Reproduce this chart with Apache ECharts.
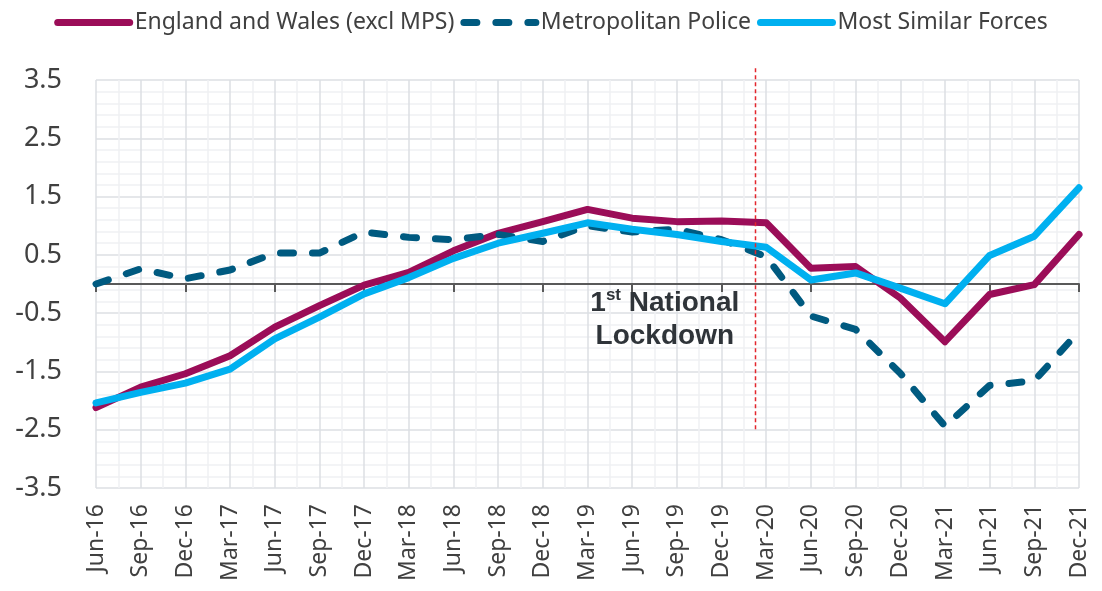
<!DOCTYPE html>
<html>
<head>
<meta charset="utf-8">
<script src="https://cdn.jsdelivr.net/npm/echarts@6/dist/echarts.min.js"></script>
<style>
  html, body { margin: 0; padding: 0; background: #ffffff; }
  #chart { width: 1102px; height: 591px; }
</style>
</head>
<body>
<div id="chart"></div>
<script>
// quarters on the x axis
const quarters = ['Jun-16', 'Sep-16', 'Dec-16', 'Mar-17', 'Jun-17', 'Sep-17', 'Dec-17', 'Mar-18',
    'Jun-18', 'Sep-18', 'Dec-18', 'Mar-19', 'Jun-19', 'Sep-19', 'Dec-19', 'Mar-20',
    'Jun-20', 'Sep-20', 'Dec-20', 'Mar-21', 'Jun-21', 'Sep-21', 'Dec-21'];

const englandWales = [-2.12, -1.77, -1.54, -1.23, -0.74, -0.37, -0.02, 0.20, 0.57, 0.87, 1.07, 1.28,
    1.13, 1.07, 1.08, 1.05, 0.27, 0.30, -0.24, -0.99, -0.18, -0.01, 0.85];
const metPolice = [0.00, 0.26, 0.09, 0.24, 0.53, 0.53, 0.89, 0.80, 0.76, 0.85, 0.73, 1.00,
    0.89, 0.94, 0.76, 0.47, -0.55, -0.78, -1.53, -2.44, -1.74, -1.66, -0.81];
const similarForces = [-2.04, -1.86, -1.70, -1.46, -0.94, -0.57, -0.17, 0.11, 0.44, 0.70, 0.87, 1.05,
    0.94, 0.85, 0.73, 0.63, 0.07, 0.19, -0.07, -0.34, 0.49, 0.82, 1.65];

// lockdown marker: position on the quarter scale and its vertical extent
const lockdownAt = 14.76;
const lockdownSpan = [3.7, -2.54];
const noteAt = [12.73, -0.62];

const chart = echarts.init(document.getElementById('chart'));
const txt = '#404040';
const major = '#dcdfe3';
const minor = '#eff1f3';

const option = {
    animation: false,
    textStyle: { fontFamily: 'Noto Sans' },
    legend: {
        top: 6,
        left: 'center',
        itemWidth: 72,
        itemHeight: 14,
        itemGap: 6,
        itemStyle: { opacity: 0 },
        lineStyle: { width: 7, cap: 'round' },
        textStyle: { color: txt, fontSize: 23 },
        data: ['England and Wales (excl MPS)', 'Metropolitan Police', 'Most Similar Forces']
    },
    grid: { left: 96, right: 23, top: 80, bottom: 103 },
    xAxis: [
        {   // labels at the bottom
            type: 'category',
            position: 'bottom',
            data: quarters,
            boundaryGap: false,
            axisLine: { show: false, onZero: false },
            axisTick: { show: false },
            axisLabel: { rotate: 90, color: txt, fontSize: 23, margin: 16 },
            splitLine: { show: false }
        },
        {   // grid lines only
            type: 'value',
            position: 'bottom',
            min: 0,
            max: quarters.length - 1,
            interval: 1,
            axisLine: { show: false, onZero: false },
            axisTick: { show: false },
            axisLabel: { show: false },
            minorTick: { show: true, splitNumber: 2, length: 0 },
            splitLine: { show: true, lineStyle: { color: major, width: 1.5 } },
            minorSplitLine: { show: true, lineStyle: { color: minor, width: 1.5 } }
        },
        {   // zero line with ticks
            type: 'category',
            position: 'bottom',
            data: quarters,
            boundaryGap: false,
            axisLine: { show: true, onZero: true, lineStyle: { color: '#595959', width: 2 } },
            axisTick: { show: true, length: 8, lineStyle: { color: '#595959', width: 2 } },
            axisLabel: { show: false },
            splitLine: { show: false }
        }
    ],
    yAxis: {
        type: 'value',
        min: -3.5,
        max: 3.5,
        interval: 1,
        axisLine: { show: false, onZero: false },
        axisTick: { show: false },
        axisLabel: { color: txt, fontSize: 27, margin: 34 },
        minorTick: { show: true, splitNumber: 5, length: 0 },
        splitLine: { show: true, lineStyle: { color: major, width: 1.5 } },
        minorSplitLine: { show: true, lineStyle: { color: minor, width: 1.5 } }
    },
    series: [
        {
            name: 'England and Wales (excl MPS)',
            type: 'line',
            data: englandWales,
            showSymbol: false,
            symbol: 'none',
            color: '#9b0d58',
            lineStyle: { width: 7, color: '#9b0d58', join: 'round', cap: 'round' },
            z: 3
        },
        {
            name: 'Metropolitan Police',
            type: 'line',
            data: metPolice,
            showSymbol: false,
            symbol: 'none',
            color: '#005a80',
            lineStyle: { width: 7, color: '#005a80', type: [13, 19], cap: 'round', join: 'round' },
            z: 4
        },
        {
            name: 'Most Similar Forces',
            type: 'line',
            data: similarForces,
            showSymbol: false,
            symbol: 'none',
            color: '#00b0f0',
            lineStyle: { width: 7, color: '#00b0f0', join: 'round', cap: 'round' },
            z: 5
        },
        {
            name: 'lockdown',
            type: 'line',
            xAxisIndex: 1,
            clip: false,
            showSymbol: false,
            symbol: 'none',
            silent: true,
            data: lockdownSpan.map(v => [lockdownAt, v]),
            lineStyle: { width: 1.5, color: '#e3262d', type: [4, 3] },
            z: 6
        }
    ]
};

chart.setOption(option);

// annotation text placed through the axes
const notePos = chart.convertToPixel({ xAxisIndex: 1, yAxisIndex: 0 }, noteAt);
chart.setOption({
    graphic: [{
        type: 'text',
        x: notePos[0],
        y: notePos[1],
        z: 100,
        silent: true,
        style: {
            text: '{a|1}{s|st}{a| National}\n{a|Lockdown}',
            align: 'center',
            verticalAlign: 'middle',
            rich: {
                a: { fontFamily: 'Liberation Sans', fontWeight: 'bold', fontSize: 28, lineHeight: 33, fill: '#2f3439' },
                s: { fontFamily: 'Liberation Sans', fontWeight: 'bold', fontSize: 17, lineHeight: 17, verticalAlign: 'top', fill: '#2f3439' }
            }
        }
    }]
});
window.addEventListener('resize', () => chart.resize());
</script>
</body>
</html>
